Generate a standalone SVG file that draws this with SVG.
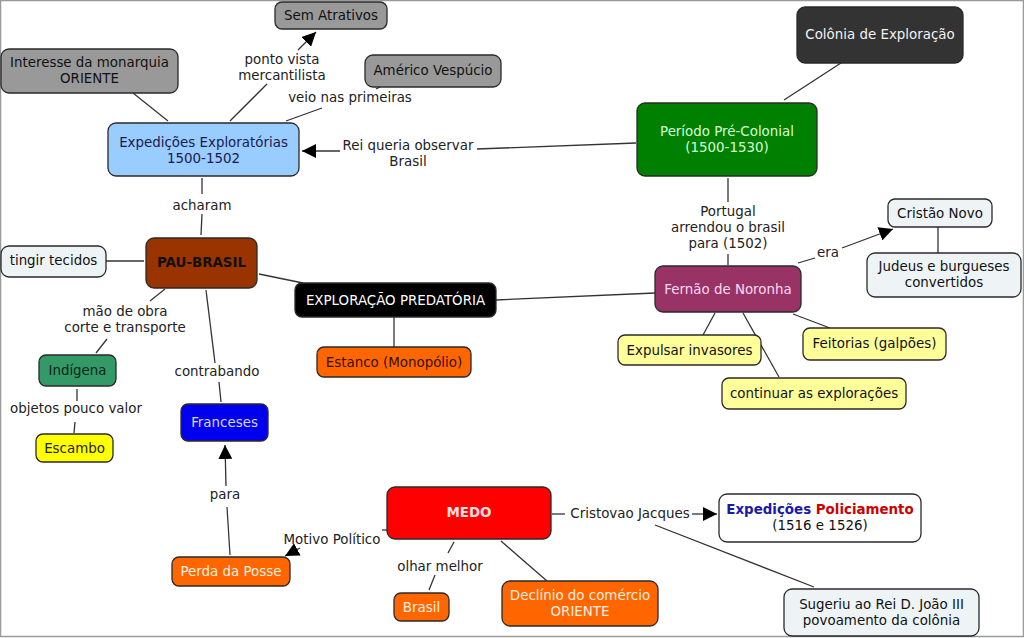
<svg xmlns="http://www.w3.org/2000/svg" width="1024" height="638" viewBox="0 0 1024 638">
<defs>
<marker id="arr" markerUnits="userSpaceOnUse" markerWidth="16" markerHeight="14" refX="14" refY="7" orient="auto">
<path d="M0,0 L14,7 L0,14 z" fill="#000"/>
</marker>
<style>
text{font-family:"DejaVu Sans",Verdana,sans-serif;font-size:13.4px;text-anchor:middle}
.n{stroke:#2a2a2a;stroke-width:1.3}
.c line,.c polyline{stroke:#333;stroke-width:1.3;fill:none}
.lbl{fill:#222}
.dk{fill:#111}
</style>
</defs>
<rect x="0.5" y="0.5" width="1023" height="636" fill="#fff" stroke="#9a9a9a" stroke-width="1.5"/>

<g class="c" id="connectors">
<line x1="133" y1="93" x2="168" y2="121"/>
<line x1="230" y1="121" x2="267" y2="84"/>
<line x1="298" y1="50" x2="316" y2="32" marker-end="url(#arr)"/>
<line x1="286" y1="121" x2="322" y2="108"/>
<line x1="376" y1="89" x2="380" y2="87"/>
<line x1="636" y1="143" x2="477" y2="149"/>
<line x1="340" y1="151" x2="302" y2="151" marker-end="url(#arr)"/>
<line x1="841" y1="63" x2="784" y2="100"/>
<line x1="202" y1="178" x2="202" y2="194"/>
<line x1="202" y1="214" x2="201" y2="235"/>
<line x1="728" y1="178" x2="728" y2="202"/>
<line x1="728" y1="254" x2="728" y2="265"/>
<line x1="106" y1="261" x2="144" y2="261"/>
<line x1="259" y1="274" x2="303" y2="283"/>
<line x1="496" y1="300" x2="655" y2="293"/>
<line x1="394" y1="317" x2="394" y2="347"/>
<line x1="165" y1="289" x2="150" y2="301"/>
<line x1="107" y1="339" x2="96" y2="353"/>
<line x1="77" y1="389" x2="77" y2="401"/>
<line x1="75" y1="422" x2="74" y2="433"/>
<line x1="206" y1="290" x2="215" y2="363"/>
<line x1="219" y1="382" x2="221" y2="402"/>
<line x1="798" y1="263" x2="815" y2="258"/>
<line x1="842" y1="248" x2="893" y2="229" marker-end="url(#arr)"/>
<line x1="938" y1="227" x2="938" y2="253"/>
<line x1="715" y1="313" x2="703" y2="335"/>
<line x1="743" y1="313" x2="779" y2="377"/>
<line x1="793" y1="314" x2="830" y2="328"/>
<line x1="230" y1="555" x2="227" y2="507"/>
<line x1="226" y1="486" x2="225" y2="445" marker-end="url(#arr)"/>
<line x1="387" y1="530" x2="382" y2="530"/>
<line x1="300" y1="548" x2="285" y2="556" marker-end="url(#arr)"/>
<line x1="454" y1="542" x2="448" y2="553"/>
<line x1="435" y1="575" x2="429" y2="590"/>
<line x1="501" y1="541" x2="547" y2="581"/>
<line x1="552" y1="514" x2="565" y2="514"/>
<line x1="692" y1="514" x2="717" y2="514" marker-end="url(#arr)"/>
<line x1="655" y1="525" x2="814" y2="587"/>
<g class="lbl">
<text x="282" y="64">ponto vista</text>
<text x="282" y="80">mercantilista</text>
<text x="350" y="102">veio nas primeiras</text>
<text x="408" y="150">Rei queria observar</text>
<text x="408" y="166">Brasil</text>
<text x="202" y="210">acharam</text>
<text x="728" y="216">Portugal</text>
<text x="728" y="232">arrendou o brasil</text>
<text x="728" y="248">para (1502)</text>
<text x="828" y="257">era</text>
<text x="125" y="316">mão de obra</text>
<text x="125" y="332">corte e transporte</text>
<text x="76" y="413">objetos pouco valor</text>
<text x="217" y="376">contrabando</text>
<text x="225" y="499">para</text>
<text x="332" y="544">Motivo Político</text>
<text x="440" y="571">olhar melhor</text>
<text x="630" y="518">Cristovao Jacques</text>
</g>
</g>

<g id="sem-atrativos"><rect class="n" x="275" y="2" width="112" height="27" rx="7" fill="#999"/><text class="dk" x="331" y="20">Sem Atrativos</text></g>
<g id="interesse"><rect class="n" x="1" y="49" width="177" height="44" rx="8" fill="#999"/><text class="dk" x="89.5" y="67">Interesse da monarquia</text><text class="dk" x="89.5" y="83">ORIENTE</text></g>
<g id="americo"><rect class="n" x="365" y="55" width="136" height="32" rx="8" fill="#999"/><text class="dk" x="433" y="75">Américo Vespúcio</text></g>
<g id="expedicoes"><rect class="n" x="108" y="123" width="191" height="53" rx="8" fill="#99ccff"/><text x="203.5" y="147" fill="#1a1a4d">Expedições Exploratórias</text><text x="203.5" y="163" fill="#1a1a4d">1500-1502</text></g>
<g id="colonia"><rect class="n" x="797" y="7" width="166" height="56" rx="8" fill="#333"/><text x="880" y="39" fill="#f2f2f2">Colônia de Exploração</text></g>
<g id="periodo"><rect class="n" x="637" y="103" width="180" height="73" rx="8" fill="#008000"/><text x="727" y="136" fill="#d6ffd6">Período Pré-Colonial</text><text x="727" y="152" fill="#d6ffd6">(1500-1530)</text></g>
<g id="pau-brasil"><rect class="n" x="146" y="238" width="111" height="50" rx="8" fill="#993300"/><text x="201.5" y="267" fill="#111" font-weight="bold">PAU-BRASIL</text></g>
<g id="tingir"><rect class="n" x="1" y="246" width="105" height="31" rx="8" fill="#eef4f6"/><text class="dk" x="53.5" y="265">tingir tecidos</text></g>
<g id="exploracao"><rect class="n" x="295" y="283" width="201" height="34" rx="7" fill="#000"/><text x="395.5" y="305" fill="#fff">EXPLORAÇÃO PREDATÓRIA</text></g>
<g id="estanco"><rect class="n" x="317" y="347" width="154" height="30" rx="7" fill="#ff6600"/><text x="394" y="367" fill="#331100">Estanco (Monopólio)</text></g>
<g id="indigena"><rect class="n" x="39" y="355" width="77" height="31" rx="7" fill="#339966"/><text x="77.5" y="375" fill="#0d2618">Indígena</text></g>
<g id="escambo"><rect class="n" x="36" y="434" width="77" height="28" rx="7" fill="#ffff00"/><text x="74.5" y="453" fill="#222">Escambo</text></g>
<g id="franceses"><rect class="n" x="181" y="404" width="87" height="37" rx="7" fill="#0000ee"/><text x="224.5" y="427" fill="#d9d9ff">Franceses</text></g>
<g id="fernao"><rect class="n" x="655" y="266" width="146" height="46" rx="8" fill="#993366"/><text x="728" y="294" fill="#ffd9f2">Fernão de Noronha</text></g>
<g id="cristao"><rect class="n" x="888" y="199" width="104" height="28" rx="7" fill="#eef4f6"/><text class="dk" x="940" y="218">Cristão Novo</text></g>
<g id="judeus"><rect class="n" x="867" y="253" width="154" height="44" rx="8" fill="#eef4f6"/><text class="dk" x="944" y="271">Judeus e burgueses</text><text class="dk" x="944" y="287">convertidos</text></g>
<g id="expulsar"><rect class="n" x="618" y="335" width="143" height="30" rx="7" fill="#ffff99"/><text class="dk" x="689.5" y="355">Expulsar invasores</text></g>
<g id="feitorias"><rect class="n" x="803" y="328" width="143" height="32" rx="7" fill="#ffff99"/><text class="dk" x="874.5" y="348">Feitorias (galpões)</text></g>
<g id="continuar"><rect class="n" x="722" y="378" width="184" height="31" rx="7" fill="#ffff99"/><text class="dk" x="814" y="398">continuar as explorações</text></g>
<g id="perda"><rect class="n" x="172" y="557" width="118" height="29" rx="7" fill="#ff6600"/><text x="231" y="576" fill="#fff0e0">Perda da Posse</text></g>
<g id="medo"><rect class="n" x="387" y="487" width="164" height="52" rx="8" fill="#ff0000"/><text x="469" y="517" fill="#ffe0e0" font-weight="bold">MEDO</text></g>
<g id="brasil"><rect class="n" x="394" y="593" width="55" height="28" rx="7" fill="#ff6600"/><text x="421.5" y="612" fill="#fff0e0">Brasil</text></g>
<g id="declinio"><rect class="n" x="502" y="581" width="156" height="45" rx="8" fill="#ff6600"/><text x="580" y="600" fill="#fff0e0">Declínio do comércio</text><text x="580" y="616" fill="#fff0e0">ORIENTE</text></g>
<g id="policiamento"><rect class="n" x="719" y="494" width="202" height="48" rx="8" fill="#fff"/><text x="820" y="514" font-weight="bold"><tspan fill="#1a1aa6">Expedições</tspan> <tspan fill="#cc0000">Policiamento</tspan></text><text class="dk" x="820" y="530">(1516 e 1526)</text></g>
<g id="sugeriu"><rect class="n" x="784" y="589" width="195" height="47" rx="8" fill="#eef4f6"/><text class="dk" x="881.5" y="609">Sugeriu ao Rei D. João III</text><text class="dk" x="881.5" y="625">povoamento da colônia</text></g>
</svg>
